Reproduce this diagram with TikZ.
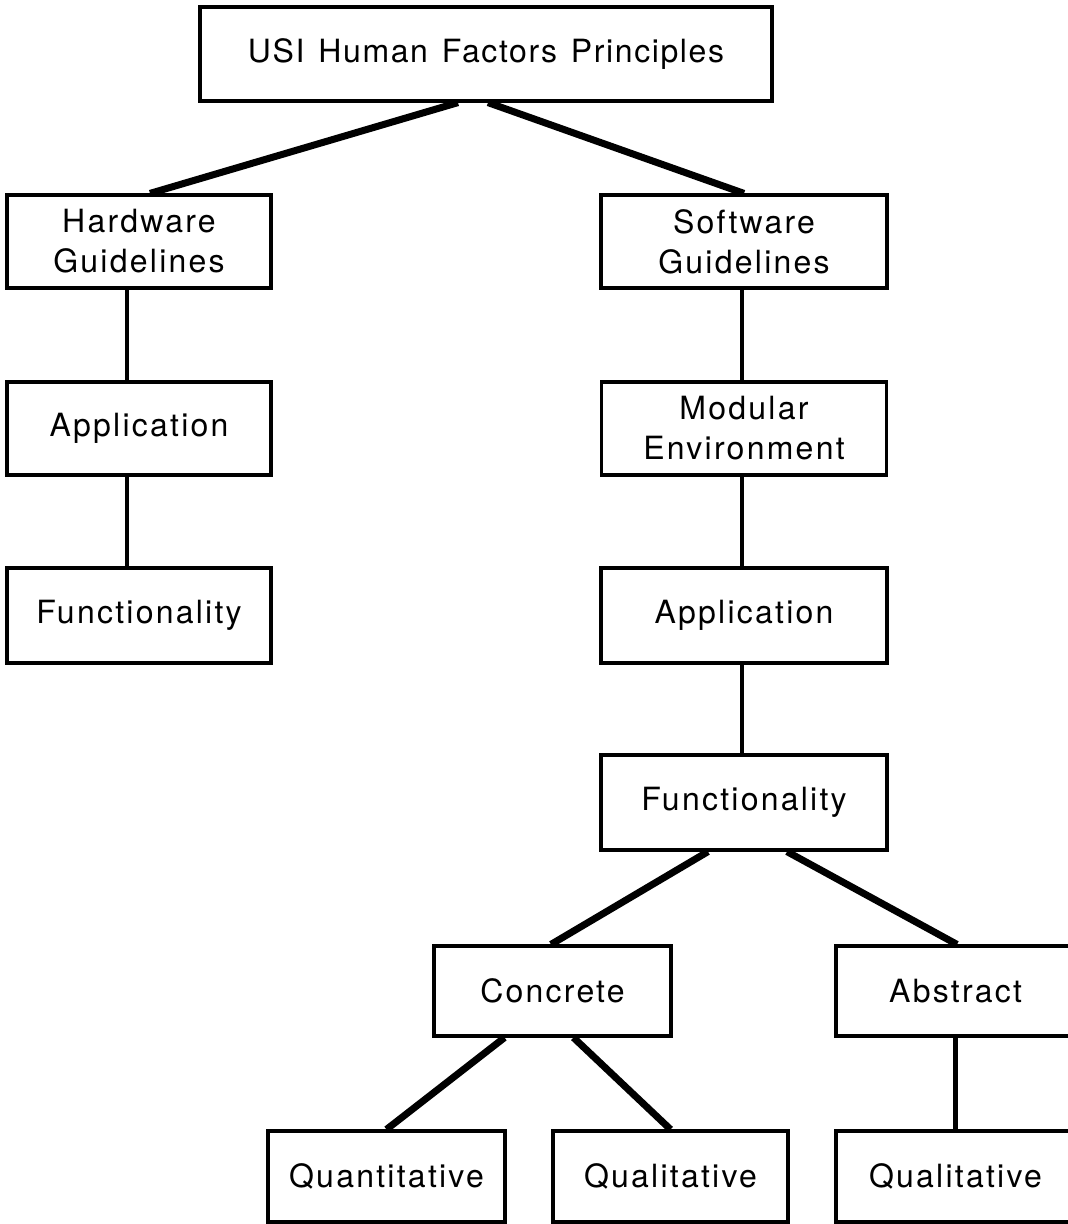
\documentclass[tikz,border=0pt]{standalone}
\usepackage{fontspec}
\setmainfont{TeX Gyre Heros}[LetterSpace=7]
\usetikzlibrary{calc}
\begin{document}
\begin{tikzpicture}[x=1pt,y=-1pt,
  box/.style={draw, line width=3.2pt, inner sep=0pt, align=center,
    font=\fontsize{32pt}{40pt}\selectfont},
  thick line/.style={line width=7pt},
  vline/.style={line width=4.5pt}]
\useasboundingbox (0,0) rectangle (1068,1224);
% nodes
\node[box, minimum width=572, minimum height=94,
  font=\fontsize{32pt}{40pt}\selectfont\addfontfeature{LetterSpace=5}] (top) at (486,54) {USI\hspace{14pt}Human\hspace{14pt}Factors\hspace{14pt}Principles};
\node[box, minimum width=264, minimum height=93] (hw) at (139,241.5) {Hardware\\Guidelines};
\node[box, minimum width=286, minimum height=93] (sw) at (744,241.5) {Software\\Guidelines};
\node[box, minimum width=264, minimum height=93] (appL) at (139,428.5) {Application};
\node[box, minimum width=264, minimum height=95] (funcL) at (139,615.5) {Functionality};
\node[box, minimum width=285, minimum height=93] (mod) at (744,428.5) {Modular\\Environment};
\node[box, minimum width=286, minimum height=95] (appR) at (744,615.5) {Application};
\node[box, minimum width=286, minimum height=95] (funcR) at (744,802.5) {Functionality};
\node[box, minimum width=237, minimum height=90] (conc) at (552.5,991) {Concrete};
\node[box, minimum width=239, minimum height=90] (abs) at (955.5,991) {Abstract};
\node[box, minimum width=237, minimum height=91] (quant) at (386.5,1176.5) {Quantitative};
\node[box, minimum width=235, minimum height=91] (qual) at (670.5,1176.5) {Qualitative};
\node[box, minimum width=239, minimum height=91] (qualR) at (955.5,1176.5) {Qualitative};
% connectors
\draw[thick line] ($(top.south)+(-28,0)$) -- ($(hw.north)+(11,0)$);
\draw[thick line] ($(top.south)+(2,0)$) -- ($(sw.north)+(0,0)$);
\draw[vline] ($(hw.south)+(-12,0)$) -- ($(appL.north)+(-12,0)$);
\draw[vline] ($(appL.south)+(-12,0)$) -- ($(funcL.north)+(-12,0)$);
\draw[vline] ($(sw.south)+(-2,0)$) -- ($(mod.north)+(-2,0)$);
\draw[vline] ($(mod.south)+(-2,0)$) -- ($(appR.north)+(-2,0)$);
\draw[vline] ($(appR.south)+(-2,0)$) -- ($(funcR.north)+(-2,0)$);
\draw[thick line] ($(funcR.south)+(-36,0)$) -- ($(conc.north)+(-1.5,0)$);
\draw[thick line] ($(funcR.south)+(43,0)$) -- ($(abs.north)+(1.5,0)$);
\draw[thick line] ($(conc.south)+(-48,0)$) -- (quant.north);
\draw[thick line] ($(conc.south)+(21,0)$) -- (qual.north);
\draw[vline] (abs.south) -- (qualR.north);
\end{tikzpicture}
\end{document}
